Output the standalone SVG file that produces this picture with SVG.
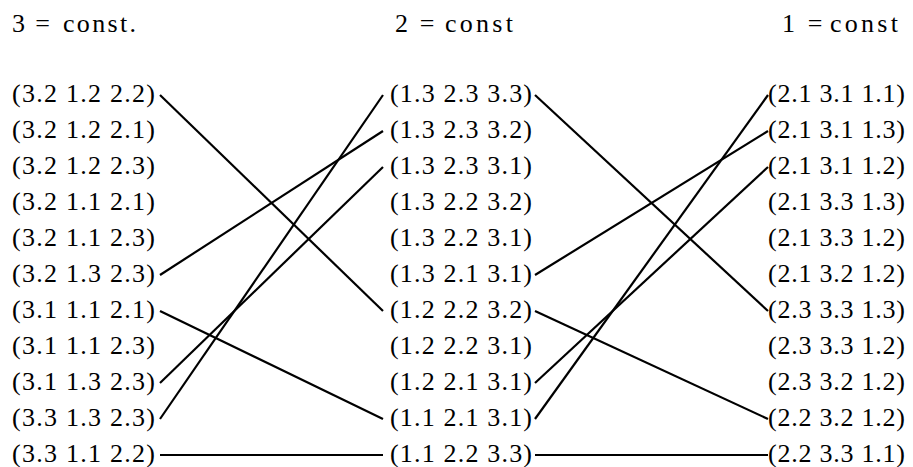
<svg xmlns="http://www.w3.org/2000/svg" width="913" height="467" viewBox="0 0 913 467">
<style>
.t{font-family:"Liberation Serif","DejaVu Serif",serif;font-size:26px;fill:#000}
.eq{text-anchor:middle}
.c line{stroke:#000;stroke-width:2.2}
</style>
<rect width="913" height="467" fill="#fff"/>
<g id="headers" class="t">
<text x="12" y="32">3</text><text class="eq" x="42.5" y="32">=</text><text x="63" y="32" textLength="73" lengthAdjust="spacing">const.</text>
<text x="395" y="32">2</text><text class="eq" x="427" y="32">=</text><text x="445" y="32" textLength="68" lengthAdjust="spacing">const</text>
<text x="782" y="32">1</text><text class="eq" x="815" y="32">=</text><text x="830" y="32" textLength="68" lengthAdjust="spacing">const</text>
</g>
<g id="left" class="t">
<g id="L1"><text x="12" y="102" textLength="143" lengthAdjust="spacing">(3.2 1.2 2.2)</text></g>
<g id="L2"><text x="12" y="138" textLength="143" lengthAdjust="spacing">(3.2 1.2 2.1)</text></g>
<g id="L3"><text x="12" y="174" textLength="143" lengthAdjust="spacing">(3.2 1.2 2.3)</text></g>
<g id="L4"><text x="12" y="210" textLength="143" lengthAdjust="spacing">(3.2 1.1 2.1)</text></g>
<g id="L5"><text x="12" y="246" textLength="143" lengthAdjust="spacing">(3.2 1.1 2.3)</text></g>
<g id="L6"><text x="12" y="282" textLength="143" lengthAdjust="spacing">(3.2 1.3 2.3)</text></g>
<g id="L7"><text x="12" y="318" textLength="143" lengthAdjust="spacing">(3.1 1.1 2.1)</text></g>
<g id="L8"><text x="12" y="354" textLength="143" lengthAdjust="spacing">(3.1 1.1 2.3)</text></g>
<g id="L9"><text x="12" y="390" textLength="143" lengthAdjust="spacing">(3.1 1.3 2.3)</text></g>
<g id="L10"><text x="12" y="426" textLength="143" lengthAdjust="spacing">(3.3 1.3 2.3)</text></g>
<g id="L11"><text x="12" y="462" textLength="143" lengthAdjust="spacing">(3.3 1.1 2.2)</text></g>
</g>
<g id="middle" class="t">
<g id="M1"><text x="390" y="102" textLength="142" lengthAdjust="spacing">(1.3 2.3 3.3)</text></g>
<g id="M2"><text x="390" y="138" textLength="142" lengthAdjust="spacing">(1.3 2.3 3.2)</text></g>
<g id="M3"><text x="390" y="174" textLength="142" lengthAdjust="spacing">(1.3 2.3 3.1)</text></g>
<g id="M4"><text x="390" y="210" textLength="142" lengthAdjust="spacing">(1.3 2.2 3.2)</text></g>
<g id="M5"><text x="390" y="246" textLength="142" lengthAdjust="spacing">(1.3 2.2 3.1)</text></g>
<g id="M6"><text x="390" y="282" textLength="142" lengthAdjust="spacing">(1.3 2.1 3.1)</text></g>
<g id="M7"><text x="390" y="318" textLength="142" lengthAdjust="spacing">(1.2 2.2 3.2)</text></g>
<g id="M8"><text x="390" y="354" textLength="142" lengthAdjust="spacing">(1.2 2.2 3.1)</text></g>
<g id="M9"><text x="390" y="390" textLength="142" lengthAdjust="spacing">(1.2 2.1 3.1)</text></g>
<g id="M10"><text x="390" y="426" textLength="142" lengthAdjust="spacing">(1.1 2.1 3.1)</text></g>
<g id="M11"><text x="390" y="462" textLength="142" lengthAdjust="spacing">(1.1 2.2 3.3)</text></g>
</g>
<g id="right" class="t">
<g id="R1"><text x="768" y="102" textLength="137" lengthAdjust="spacing">(2.1 3.1 1.1)</text></g>
<g id="R2"><text x="768" y="138" textLength="137" lengthAdjust="spacing">(2.1 3.1 1.3)</text></g>
<g id="R3"><text x="768" y="174" textLength="137" lengthAdjust="spacing">(2.1 3.1 1.2)</text></g>
<g id="R4"><text x="768" y="210" textLength="137" lengthAdjust="spacing">(2.1 3.3 1.3)</text></g>
<g id="R5"><text x="768" y="246" textLength="137" lengthAdjust="spacing">(2.1 3.3 1.2)</text></g>
<g id="R6"><text x="768" y="282" textLength="137" lengthAdjust="spacing">(2.1 3.2 1.2)</text></g>
<g id="R7"><text x="768" y="318" textLength="137" lengthAdjust="spacing">(2.3 3.3 1.3)</text></g>
<g id="R8"><text x="768" y="354" textLength="137" lengthAdjust="spacing">(2.3 3.3 1.2)</text></g>
<g id="R9"><text x="768" y="390" textLength="137" lengthAdjust="spacing">(2.3 3.2 1.2)</text></g>
<g id="R10"><text x="768" y="426" textLength="137" lengthAdjust="spacing">(2.2 3.2 1.2)</text></g>
<g id="R11"><text x="768" y="462" textLength="137" lengthAdjust="spacing">(2.2 3.3 1.1)</text></g>
</g>
<g id="connectors" class="c">
<line x1="160" y1="95" x2="383" y2="311"/>
<line x1="160" y1="275" x2="383" y2="131"/>
<line x1="160" y1="311" x2="383" y2="419"/>
<line x1="160" y1="383" x2="383" y2="167"/>
<line x1="160" y1="419" x2="383" y2="95"/>
<line x1="160" y1="455" x2="383" y2="455"/>
<line x1="535" y1="95" x2="768" y2="311"/>
<line x1="535" y1="275" x2="768" y2="131"/>
<line x1="535" y1="311" x2="768" y2="419"/>
<line x1="535" y1="383" x2="768" y2="167"/>
<line x1="535" y1="419" x2="768" y2="95"/>
<line x1="535" y1="455" x2="768" y2="455"/>
</g>
</svg>
